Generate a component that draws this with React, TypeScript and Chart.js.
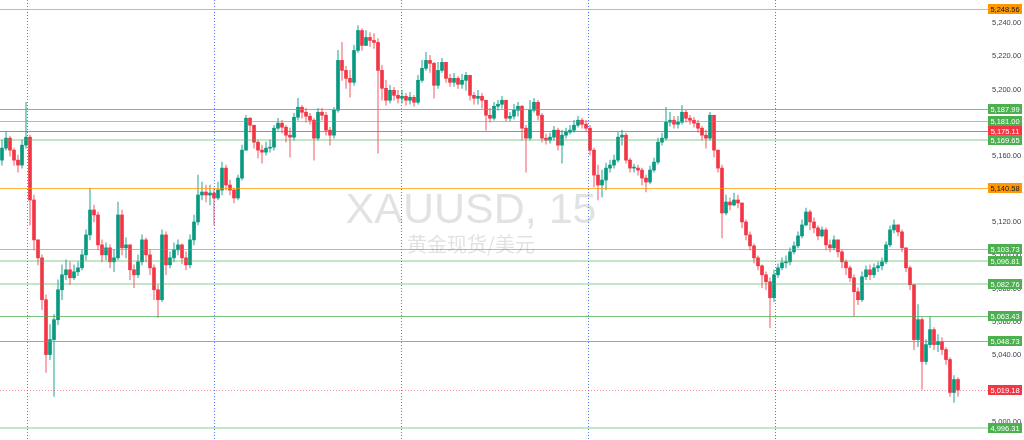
import React, { useEffect, useRef } from "react";
import { Chart, registerables } from "chart.js";

Chart.register(...registerables);

// XAUUSD 15-minute candles (close / high / low); open = previous close
const firstOpen = 5157.5;
const closes = [
  5164.7, 5170.7, 5163.5, 5157.5, 5154.5, 5166.5, 5171.3, 5133.5, 5109.5, 5098.7,
  5073.5, 5040.5, 5049.5, 5061.5, 5079.5, 5088.5, 5091.5, 5086.7, 5090.3, 5092.7,
  5100.5, 5112.5, 5127.5, 5124.5, 5106.5, 5100.5, 5104.7, 5096.3, 5098.7, 5124.5,
  5104.7, 5106.5, 5091.5, 5088.5, 5096.3, 5109.5, 5100.5, 5092.7, 5079.5, 5073.5,
  5112.5, 5094.5, 5098.7, 5103.5, 5106.5, 5098.7, 5094.5, 5109.5, 5120.3, 5136.5,
  5138.3, 5136.5, 5137.7, 5134.7, 5139.5, 5152.7, 5142.5, 5139.5, 5134.7, 5146.7,
  5163.5, 5182.7, 5178.5, 5168.3, 5163.5, 5162.3, 5164.7, 5165.3, 5176.7, 5179.7,
  5177.3, 5172.5, 5171.3, 5183.3, 5189.3, 5186.3, 5183.9, 5181.5, 5170.7, 5186.3,
  5184.5, 5175.5, 5172.5, 5187.5, 5217.5, 5211.5, 5206.7, 5204.3, 5223.5, 5235.5,
  5226.5, 5231.3, 5229.5, 5228.3, 5211.5, 5200.7, 5193.5, 5199.5, 5196.5, 5194.7,
  5195.9, 5193.5, 5195.3, 5192.3, 5205.5, 5212.7, 5217.5, 5215.7, 5202.5, 5211.5,
  5216.3, 5206.7, 5204.3, 5206.7, 5203.1, 5205.5, 5208.5, 5196.5, 5194.7, 5195.9,
  5193.5, 5184.5, 5182.7, 5189.9, 5191.1, 5193.5, 5182.7, 5183.9, 5187.5, 5189.9,
  5176.7, 5170.7, 5187.5, 5192.3, 5184.5, 5170.7, 5169.5, 5171.3, 5175.5, 5166.5,
  5172.5, 5174.3, 5175.5, 5178.5, 5181.5, 5179.1, 5176.7, 5163.5, 5148.5, 5142.5,
  5145.5, 5152.7, 5154.5, 5157.5, 5171.3, 5172.5, 5157.5, 5152.7, 5152.7, 5151.5,
  5146.7, 5144.3, 5151.5, 5156.3, 5168.3, 5170.7, 5180.3, 5181.5, 5179.1, 5180.3,
  5186.3, 5182.7, 5181.5, 5179.7, 5176.7, 5172.5, 5170.7, 5184.5, 5163.5, 5152.7,
  5125.7, 5132.3, 5130.5, 5133.5, 5131.7, 5120.3, 5112.5, 5105.9, 5098.7, 5093.9,
  5088.5, 5084.3, 5074.7, 5088.5, 5092.7, 5095.7, 5096.3, 5102.3, 5105.9, 5111.9,
  5118.5, 5126.3, 5120.3, 5116.7, 5111.9, 5115.5, 5106.5, 5104.7, 5109.5, 5102.3,
  5096.3, 5092.7, 5086.7, 5078.3, 5073.5, 5087.3, 5091.5, 5088.5, 5092.7, 5093.9,
  5096.3, 5106.5, 5115.5, 5118.5, 5114.3, 5104.7, 5092.7, 5082.5, 5049.5, 5061.5,
  5036.3, 5046.5, 5055.5, 5046.5, 5048.3, 5043.5, 5037.5, 5017.7, 5025.5, 5019.18,
];
const highs = [
  5169.5, 5174.3, 5171.9, 5164.7, 5160.5, 5169.5, 5192.3, 5172.5, 5136.5, 5109.5,
  5100.5, 5076.5, 5058.5, 5064.5, 5085.5, 5094.5, 5097.5, 5096.3, 5094.5, 5096.3,
  5103.5, 5115.5, 5140.7, 5130.5, 5126.3, 5109.5, 5107.7, 5106.5, 5103.5, 5132.3,
  5127.5, 5110.7, 5106.5, 5094.5, 5100.5, 5112.5, 5110.7, 5103.5, 5094.5, 5082.5,
  5115.5, 5114.3, 5102.3, 5107.7, 5109.5, 5107.1, 5102.3, 5112.5, 5124.5, 5148.5,
  5144.3, 5142.5, 5142.5, 5140.7, 5144.3, 5156.3, 5154.5, 5145.5, 5140.7, 5148.5,
  5166.5, 5184.5, 5183.3, 5178.5, 5169.5, 5166.5, 5168.3, 5169.5, 5178.5, 5182.7,
  5181.5, 5178.5, 5176.7, 5185.7, 5194.7, 5190.5, 5188.7, 5185.7, 5182.7, 5188.7,
  5188.7, 5186.3, 5177.3, 5189.3, 5223.5, 5228.3, 5213.9, 5211.5, 5226.5, 5238.5,
  5236.7, 5235.5, 5234.3, 5233.7, 5230.7, 5214.5, 5205.5, 5202.5, 5201.3, 5199.5,
  5199.5, 5197.7, 5198.3, 5196.5, 5208.5, 5217.5, 5222.3, 5220.5, 5216.3, 5216.3,
  5218.7, 5216.3, 5209.1, 5209.7, 5207.9, 5209.1, 5210.3, 5207.9, 5198.3, 5199.5,
  5197.7, 5193.5, 5188.7, 5192.3, 5193.5, 5195.9, 5193.5, 5186.3, 5191.1, 5192.3,
  5190.5, 5178.5, 5193.5, 5194.7, 5193.5, 5185.7, 5173.1, 5173.7, 5177.9, 5176.7,
  5175.5, 5176.7, 5178.5, 5181.5, 5183.9, 5182.7, 5181.5, 5178.5, 5164.7, 5154.5,
  5151.5, 5155.7, 5157.5, 5160.5, 5174.3, 5175.5, 5173.7, 5158.7, 5155.1, 5154.5,
  5152.7, 5148.5, 5153.9, 5158.7, 5170.7, 5173.7, 5189.3, 5186.3, 5183.9, 5183.9,
  5190.5, 5187.5, 5184.5, 5183.3, 5181.5, 5177.9, 5175.5, 5186.3, 5184.5, 5163.5,
  5154.5, 5136.5, 5134.7, 5137.7, 5136.5, 5131.7, 5121.5, 5114.3, 5107.1, 5099.9,
  5094.5, 5090.3, 5086.7, 5091.5, 5095.1, 5098.7, 5099.9, 5104.7, 5108.3, 5114.3,
  5121.5, 5128.7, 5127.5, 5122.7, 5117.9, 5117.3, 5116.7, 5109.5, 5111.9, 5109.5,
  5103.5, 5097.5, 5093.9, 5088.5, 5080.7, 5090.3, 5093.9, 5094.5, 5095.1, 5096.3,
  5098.7, 5108.3, 5117.9, 5121.5, 5117.9, 5115.5, 5104.7, 5093.9, 5082.5, 5070.5,
  5062.7, 5049.5, 5063.3, 5056.7, 5052.5, 5050.7, 5044.7, 5038.7, 5027.9, 5026.7,
];
const lows = [
  5154.5, 5163.5, 5159.9, 5154.5, 5150.3, 5152.7, 5164.7, 5118.5, 5103.5, 5094.5,
  5067.5, 5029.7, 5037.5, 5015.3, 5058.5, 5073.5, 5085.5, 5082.5, 5085.5, 5087.9,
  5091.5, 5097.5, 5109.5, 5120.3, 5103.5, 5096.3, 5097.5, 5092.7, 5090.3, 5097.5,
  5100.5, 5098.7, 5085.5, 5080.7, 5086.7, 5094.5, 5096.3, 5088.5, 5073.5, 5062.7,
  5072.3, 5088.5, 5092.7, 5096.3, 5100.5, 5095.1, 5091.5, 5092.7, 5106.5, 5118.5,
  5133.5, 5132.3, 5130.5, 5118.5, 5133.5, 5136.5, 5139.5, 5136.5, 5131.7, 5133.5,
  5145.5, 5163.5, 5174.3, 5164.7, 5158.7, 5155.7, 5160.5, 5162.3, 5163.5, 5175.5,
  5173.7, 5168.3, 5159.3, 5169.5, 5181.5, 5182.7, 5180.3, 5179.1, 5157.5, 5169.5,
  5181.5, 5172.5, 5166.5, 5170.7, 5186.3, 5205.5, 5200.7, 5195.3, 5202.5, 5222.3,
  5223.5, 5226.5, 5225.9, 5224.7, 5161.7, 5193.5, 5190.5, 5191.7, 5193.5, 5191.7,
  5191.7, 5190.5, 5191.1, 5189.9, 5191.1, 5204.3, 5211.5, 5210.3, 5194.7, 5200.7,
  5210.3, 5204.3, 5201.9, 5201.9, 5200.7, 5200.7, 5199.5, 5193.5, 5191.1, 5191.1,
  5188.7, 5175.5, 5180.3, 5181.5, 5187.5, 5188.7, 5180.9, 5180.9, 5182.1, 5183.9,
  5169.5, 5150.3, 5169.5, 5186.3, 5181.5, 5168.3, 5167.1, 5167.7, 5169.5, 5163.5,
  5155.7, 5170.7, 5173.1, 5174.3, 5177.3, 5176.7, 5174.9, 5160.5, 5141.3, 5133.5,
  5135.3, 5139.5, 5150.3, 5152.7, 5156.3, 5166.5, 5155.7, 5150.3, 5150.3, 5148.5,
  5142.5, 5138.3, 5143.1, 5150.3, 5155.1, 5166.5, 5169.5, 5177.9, 5176.7, 5176.7,
  5179.1, 5180.3, 5179.1, 5177.3, 5174.3, 5169.5, 5164.7, 5169.5, 5159.3, 5150.3,
  5110.7, 5124.5, 5127.5, 5129.9, 5128.7, 5116.7, 5109.5, 5103.5, 5095.7, 5091.5,
  5080.7, 5079.5, 5056.7, 5072.3, 5086.7, 5091.5, 5092.7, 5094.5, 5101.1, 5104.7,
  5110.7, 5117.9, 5115.5, 5113.7, 5109.5, 5111.3, 5103.5, 5102.3, 5103.5, 5099.3,
  5092.7, 5088.5, 5084.3, 5063.3, 5070.5, 5072.3, 5085.5, 5085.5, 5086.7, 5090.3,
  5091.5, 5095.1, 5105.3, 5113.7, 5111.9, 5102.3, 5090.3, 5079.5, 5043.5, 5045.3,
  5019.5, 5034.5, 5044.7, 5043.5, 5042.3, 5040.5, 5034.5, 5015.3, 5011.7, 5015.3,
];

// Horizontal price levels drawn on the chart
const levelPrices = [5248.56, 5187.99, 5181.0, 5175.11, 5169.65, 5140.58, 5103.73, 5096.81, 5082.76, 5063.43, 5048.73, 4996.31];
const levelKinds = ["orange", "green", "greenMid", "red", "greenLight", "orange", "greenMid", "greenLight", "greenLight", "green", "green", "greenLight"];
const lastPrice = 5019.18;
// Session separators (candle index positions)
const sessionBreaks = [6.25, 53, 99.75, 146.5, 193.25];
// Right-axis tick values
const yTicks = [5000, 5020, 5040, 5060, 5080, 5100, 5120, 5140, 5160, 5180, 5200, 5220, 5240];
const yMin = 4989.09;
const yMax = 5253.84;

const UP = "#089981";
const DOWN = "#f23645";

const kindStyle: Record<string, { line: string; width: number; bg: string; text: string }> = {
  orange: { line: "rgba(255,152,0,0.75)", width: 1, bg: "#ff9800", text: "#131722" },
  green: { line: "rgba(76,175,80,0.75)", width: 1, bg: "#4caf50", text: "#ffffff" },
  greenMid: { line: "rgba(76,175,80,0.6)", width: 1, bg: "#4caf50", text: "#ffffff" },
  greenLight: { line: "rgba(76,175,80,0.32)", width: 2, bg: "#4caf50", text: "#ffffff" },
  red: { line: "rgba(242,54,69,0.75)", width: 1, bg: "#f23645", text: "#ffffff" },
};

const fmt = (v: number) =>
  v.toLocaleString("en-US", { minimumFractionDigits: 2, maximumFractionDigits: 2 });

export default function App() {
  const ref = useRef<HTMLCanvasElement | null>(null);

  useEffect(() => {
    if (!ref.current) return;
    const opens = closes.map((_, i) => (i === 0 ? firstOpen : closes[i - 1]));
    const isUp = closes.map((c, i) => c >= opens[i]);
    const wickData = closes.map((c, i) => ({
      x: i,
      y: [Math.min(lows[i], opens[i], c), Math.max(highs[i], opens[i], c)],
    }));
    const bodyData = closes.map((c, i) => ({ x: i, y: [opens[i], c] }));

    const backgroundPlugin = {
      id: "bgLayer",
      beforeDatasetsDraw(chart: any) {
        const { ctx, chartArea, scales } = chart;
        ctx.save();
        // watermark
        ctx.textAlign = "center";
        ctx.textBaseline = "alphabetic";
        ctx.fillStyle = "rgba(120,123,134,0.22)";
        ctx.font = '43px "Liberation Sans", Arial, sans-serif';
        ctx.fillText("XAUUSD, 15", 471, 223);
        ctx.font = '20px "Noto Sans CJK SC", sans-serif';
        ctx.fillText("黄金现货/美元", 471, 252);
        // session separators
        ctx.strokeStyle = "rgba(41,98,255,0.85)";
        ctx.lineWidth = 1;
        ctx.setLineDash([1, 2]);
        sessionBreaks.forEach((b) => {
          const x = Math.round(scales.x.getPixelForValue(b)) + 0.5;
          ctx.beginPath();
          ctx.moveTo(x, chartArea.top);
          ctx.lineTo(x, chartArea.bottom);
          ctx.stroke();
        });
        ctx.restore();
      },
    };

    const levelsPlugin = {
      id: "levels",
      afterDraw(chart: any) {
        const { ctx, chartArea, scales } = chart;
        const W = chart.width;
        ctx.save();
        const drawBox = (price: number, bg: string, color: string) => {
          const y = Math.round(scales.y.getPixelForValue(price));
          ctx.fillStyle = bg;
          ctx.fillRect(chartArea.right + 3, y - 5, 34, 10);
          ctx.fillStyle = color;
          ctx.font = '7.5px "Liberation Sans", Arial, sans-serif';
          ctx.textAlign = "center";
          ctx.textBaseline = "middle";
          ctx.fillText(fmt(price), chartArea.right + 20, y + 0.5);
        };
        levelPrices.forEach((p, i) => {
          const st = kindStyle[levelKinds[i]];
          const y = Math.round(scales.y.getPixelForValue(p)) + (st.width % 2 ? 0.5 : 0);
          ctx.strokeStyle = st.line;
          ctx.lineWidth = st.width;
          ctx.setLineDash([]);
          ctx.beginPath();
          ctx.moveTo(chartArea.left, y);
          ctx.lineTo(chartArea.right + 3, y);
          ctx.stroke();
        });
        // last price line
        const ly = Math.round(scales.y.getPixelForValue(lastPrice)) + 0.5;
        ctx.strokeStyle = "rgba(242,54,69,0.55)";
        ctx.lineWidth = 1;
        ctx.setLineDash([1, 2]);
        ctx.beginPath();
        ctx.moveTo(chartArea.left, ly);
        ctx.lineTo(chartArea.right + 3, ly);
        ctx.stroke();
        ctx.setLineDash([]);
        levelPrices.forEach((p, i) => {
          const st = kindStyle[levelKinds[i]];
          drawBox(p, st.bg, st.text);
        });
        drawBox(lastPrice, DOWN, "#ffffff");
        ctx.restore();
      },
    };

    const chart = new Chart(ref.current, {
      type: "bar",
      data: {
        datasets: [
          {
            label: "wick",
            data: wickData as any,
            backgroundColor: isUp.map((u) => (u ? "rgba(8,153,129,0.55)" : "rgba(242,54,69,0.5)")),
            barThickness: 1,
            grouped: false,
            order: 2,
          } as any,
          {
            label: "body",
            data: bodyData as any,
            backgroundColor: isUp.map((u) => (u ? UP : DOWN)),
            barThickness: 3,
            minBarLength: 1,
            grouped: false,
            order: 1,
          } as any,
        ],
      },
      options: {
        responsive: false,
        animation: false,
        devicePixelRatio: 1,
        layout: { padding: 0 },
        plugins: {
          legend: { display: false },
          tooltip: { enabled: false },
        },
        scales: {
          x: {
            type: "linear",
            display: false,
            min: -0.5,
            max: 245.75,
            offset: false,
          },
          y: {
            position: "right",
            min: yMin,
            max: yMax,
            grid: { display: false, drawTicks: false },
            border: { display: false },
            afterBuildTicks: (scale: any) => {
              scale.ticks = yTicks.map((value) => ({ value }));
            },
            afterFit: (scale: any) => {
              scale.width = 39;
              scale.paddingTop = 0;
              scale.paddingBottom = 0;
            },
            ticks: {
              padding: 7,
              color: "#3a3e4a",
              font: { family: '"Liberation Sans", Arial, sans-serif', size: 7.5 },
              callback: (v: any) => fmt(Number(v)),
            },
          },
        },
      },
      plugins: [backgroundPlugin, levelsPlugin],
    });
    return () => chart.destroy();
  }, []);

  return (
    <div style={{ position: "absolute", left: 0, top: 0, width: 1024, height: 440, background: "#fff" }}>
      <canvas ref={ref} width={1024} height={440} style={{ display: "block" }} />
    </div>
  );
}
